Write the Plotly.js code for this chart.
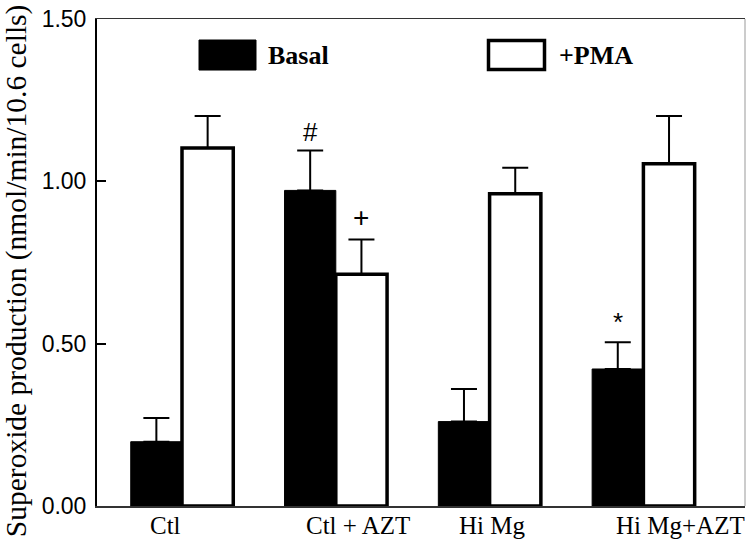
<!DOCTYPE html>
<html>
<head>
<meta charset="utf-8">
<script src="https://cdn.plot.ly/plotly-3.0.1.min.js"></script>
<style>html,body{margin:0;padding:0;background:#fff}#chart{width:750px;height:547px}</style>
</head>
<body>
<div id="chart"></div>
<script>
// ---- data ----
const categories = ['Ctl', 'Ctl + AZT', 'Hi Mg', 'Hi Mg+AZT'];
const basal = [0.198, 0.972, 0.260, 0.422];
const basalErr = [0.073, 0.123, 0.100, 0.082];
const pma = [1.103, 0.714, 0.962, 1.054];
const pmaErr = [0.098, 0.107, 0.080, 0.147];
const basalMarks = ['', '#', '', '*'];
const pmaMarks = ['', '+', '', ''];
const yTickVals = [0, 0.5, 1.0, 1.5];
const yTickText = ['0.00', '0.50', '1.00', '1.50'];
const seriesNames = ['Basal', '+PMA'];
const yTitle = 'Superoxide production (nmol/min/10.6 cells)';

// ---- layout helpers ----
const M = {l: 97, r: 5, t: 19, b: 41.3};
const W = 750, H = 547;
const PW = W - M.l - M.r, PH = H - M.t - M.b;
const px = x => (x - M.l) / PW;
const py = y => (H - M.b - y) / PH;
const serif = 'Liberation Serif, Times New Roman, serif';
const sans = 'Liberation Sans, Arial, sans-serif';
const labelShift = [-17, 22, 2, 37];
const idx = categories.map((c, i) => i);

const traces = [
  {
    type: 'bar', name: seriesNames[0], x: idx, y: basal,
    marker: {color: '#000', line: {color: '#000', width: 1}},
    error_y: {type: 'data', symmetric: false, array: basalErr, arrayminus: basalErr.map(() => 0),
              color: '#000', thickness: 2, width: 13},
    showlegend: false, hoverinfo: 'skip'
  },
  {
    type: 'bar', name: seriesNames[1], x: idx, y: pma,
    marker: {color: '#fff', line: {color: '#000', width: 3.5}},
    error_y: {type: 'data', symmetric: false, array: pmaErr, arrayminus: pmaErr.map(() => 0),
              color: '#000', thickness: 2, width: 13},
    showlegend: false, hoverinfo: 'skip'
  }
];

const annotations = [];
categories.forEach((c, i) => {
  annotations.push({
    x: i, y: 0, xref: 'x', yref: 'y', text: c, showarrow: false,
    xanchor: 'center', yanchor: 'middle', xshift: labelShift[i], yshift: -19,
    font: {family: serif, size: 25, color: '#000'}
  });
  if (basalMarks[i]) annotations.push({
    x: i - 1/6, y: basal[i] + basalErr[i], xref: 'x', yref: 'y', text: basalMarks[i],
    showarrow: false, xanchor: 'center', yanchor: 'middle', yshift: basalMarks[i] === '*' ? 20 : 18,
    font: {family: sans, size: 26, color: '#000'}
  });
  if (pmaMarks[i]) annotations.push({
    x: i + 1/6, y: pma[i] + pmaErr[i], xref: 'x', yref: 'y', text: pmaMarks[i],
    showarrow: false, xanchor: 'center', yanchor: 'middle', yshift: 22,
    font: {family: sans, size: 28, color: '#000'}
  });
});
// legend texts
annotations.push({x: px(266), y: py(55), xref: 'paper', yref: 'paper', text: '<b>' + seriesNames[0] + '</b>',
  showarrow: false, xanchor: 'left', yanchor: 'middle', font: {family: serif, size: 26, color: '#000'}});
annotations.push({x: px(557), y: py(55), xref: 'paper', yref: 'paper', text: '<b>' + seriesNames[1] + '</b>',
  showarrow: false, xanchor: 'left', yanchor: 'middle', font: {family: serif, size: 26, color: '#000'}});
// y-axis title
annotations.push({x: 16, y: 271, xref: 'paper', yref: 'paper', text: yTitle, textangle: -90,
  showarrow: false, xanchor: 'center', yanchor: 'middle',
  font: {family: serif, size: 29.5, color: '#000'}});
const yTitleAnn = annotations[annotations.length - 1];
yTitleAnn.x = px(16); yTitleAnn.y = py(271);

const shapes = [
  {type: 'rect', xref: 'paper', yref: 'paper', x0: px(199), x1: px(256), y0: py(70), y1: py(40),
   fillcolor: '#000', line: {color: '#000', width: 1}},
  {type: 'rect', xref: 'paper', yref: 'paper', x0: px(488.5), x1: px(544.5), y0: py(69.5), y1: py(40.5),
   fillcolor: '#fff', line: {color: '#000', width: 3.5}},
  {type: 'line', xref: 'paper', yref: 'paper', x0: 1, x1: 1, y0: 0, y1: 1,
   line: {color: '#999', width: 1}}
];

const layout = {
  width: W, height: H,
  margin: M,
  paper_bgcolor: '#fff', plot_bgcolor: '#fff',
  barmode: 'group', bargap: 1/3, bargroupgap: 0,
  showlegend: false,
  xaxis: {
    type: 'linear', range: [-0.5527, 3.6606], showticklabels: false, ticks: '',
    showgrid: false, zeroline: false, showline: true, mirror: true,
    linecolor: '#333', linewidth: 1.5
  },
  yaxis: {
    range: [0, 1.5], tickvals: yTickVals, ticktext: yTickText,
    ticks: 'inside', ticklen: 9, tickwidth: 2, tickcolor: '#000',
    showgrid: false, zeroline: false, showline: true, linecolor: '#000', linewidth: 2,
    tickfont: {family: sans, size: 23, color: '#000'},
    ticklabelstandoff: 4
  },
  annotations: annotations,
  shapes: shapes
};

Plotly.newPlot('chart', traces, layout, {displayModeBar: false, staticPlot: true});
</script>
</body>
</html>
